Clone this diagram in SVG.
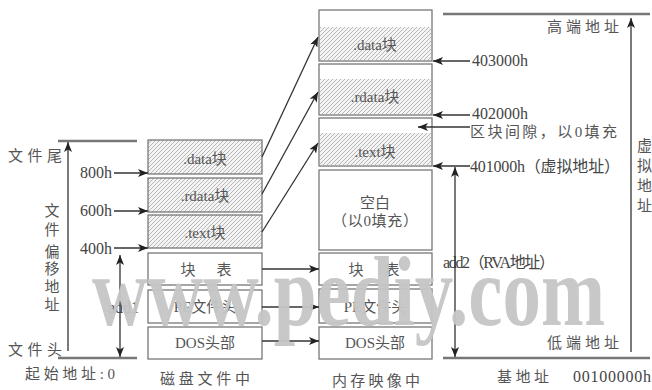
<svg xmlns="http://www.w3.org/2000/svg" width="652" height="390" viewBox="0 0 652 390">
<defs>
<pattern id="hatch" patternUnits="userSpaceOnUse" width="4" height="4">
<rect width="4" height="4" fill="#f4f4f4"/>
<path d="M-1,1 L1,-1 M0,4 L4,0 M3,5 L5,3" stroke="#b0b0b0" stroke-width="0.9"/>
</pattern>
<marker id="ah" markerUnits="userSpaceOnUse" markerWidth="10" markerHeight="8" refX="10" refY="4" orient="auto-start-reverse">
<path d="M0,0 L10,4 L0,8 L2.5,4 z" fill="#222"/>
</marker>
<style>
.box{fill:#fff;stroke:#777;stroke-width:1.3}
.hb{fill:url(#hatch);stroke:#777;stroke-width:1.3}
.hf{fill:url(#hatch);stroke:none}
.t{font-family:"Liberation Serif","Noto Sans CJK SC",serif;font-size:15px;fill:#555}
.n{font-family:"Liberation Serif","Noto Sans CJK SC",serif;font-size:16px;fill:#444}
.m{text-anchor:middle}
.ax{stroke:#777;stroke-width:2.5;fill:none}
.ar{stroke:#333;stroke-width:1.3;fill:none;marker-end:url(#ah)}
.ar2{stroke:#333;stroke-width:1.3;fill:none;marker-end:url(#ah);marker-start:url(#ah)}
.wm{font-family:"Liberation Serif",serif;font-weight:bold;font-size:100px;fill:#c6c6c6}
</style>
</defs>

<g id="disk">
<g id="disk-data"><rect class="hb" x="148" y="140" width="114" height="34"/><text class="t m" x="205" y="164">.data块</text></g>
<g id="disk-rdata"><rect class="hb" x="148" y="178" width="114" height="34"/><text class="t m" x="205" y="201">.rdata块</text></g>
<g id="disk-text"><rect class="hb" x="148" y="215" width="114" height="33"/><text class="t m" x="205" y="238">.text块</text></g>
<g id="disk-table"><rect class="box" x="148" y="253" width="114" height="32"/><text class="t m" x="188" y="275">块</text><text class="t m" x="224" y="275">表</text></g>
<g id="disk-pe"><rect class="box" x="148" y="290" width="114" height="33"/><text class="t m" x="205" y="312">PE文件头</text></g>
<g id="disk-dos"><rect class="box" x="148" y="327" width="114" height="32"/><text class="t m" x="205" y="348">DOS头部</text></g>
<text class="t m" x="205" y="384" textLength="90">磁盘文件中</text>
</g>

<g id="memory">
<g id="mem-data"><rect class="box" x="319" y="10" width="113" height="51"/><rect class="hf" x="320" y="27" width="111" height="33"/><text class="t m" x="375" y="50">.data块</text></g>
<g id="mem-rdata"><rect class="box" x="319" y="64" width="113" height="51"/><rect class="hf" x="320" y="79" width="111" height="35"/><text class="t m" x="375" y="102">.rdata块</text></g>
<g id="mem-text"><rect class="box" x="319" y="118" width="113" height="48"/><rect class="hf" x="320" y="133" width="111" height="32"/><text class="t m" x="375" y="157">.text块</text></g>
<g id="mem-blank"><rect class="box" x="319" y="170" width="113" height="80"/><text class="t m" x="375" y="208">空白</text><text class="t m" x="375" y="226" textLength="86">（以0填充）</text></g>
<g id="mem-table"><rect class="box" x="319" y="253" width="113" height="32"/><text class="t m" x="356" y="275">块</text><text class="t m" x="392" y="275">表</text></g>
<g id="mem-pe"><rect class="box" x="319" y="289" width="113" height="34"/><text class="t m" x="375" y="312">PE文件头</text></g>
<g id="mem-dos"><rect class="box" x="319" y="327" width="113" height="32"/><text class="t m" x="375" y="348">DOS头部</text></g>
<text class="t m" x="376" y="386" textLength="88">内存映像中</text>
</g>

<g id="left-axis">
<line class="ax" x1="58" y1="141" x2="137" y2="141"/>
<line class="ax" x1="58" y1="358" x2="137" y2="358"/>
<text class="t" x="8" y="161" textLength="54">文件尾</text>
<text class="t" x="8" y="355" textLength="54">文件头</text>
<text class="t" x="25" y="379" textLength="90">起始地址:0</text>
<g class="t m">
<text x="52" y="216">文</text><text x="52" y="235">件</text><text x="52" y="257">偏</text><text x="52" y="274">移</text><text x="52" y="292">地</text><text x="52" y="310">址</text>
</g>
<text class="n" x="80" y="178">800h</text>
<text class="n" x="80" y="216">600h</text>
<text class="n" x="80" y="254">400h</text>
<text class="n" x="108" y="313">add1</text>
</g>

<g id="right-axis">
<line class="ax" x1="443" y1="14" x2="650" y2="14"/>
<line class="ax" x1="443" y1="358" x2="650" y2="358"/>
<text class="t" x="547" y="32" textLength="72">高端地址</text>
<text class="t" x="547" y="348" textLength="72">低端地址</text>
<text class="n" x="472" y="66">403000h</text>
<text class="n" x="472" y="119">402000h</text>
<text class="t" x="470" y="137" textLength="147">区块间隙，以0填充</text>
<text class="n" x="470" y="172" textLength="150">401000h（虚拟地址）</text>
<text class="n" x="443" y="268" textLength="112">add2（RVA地址）</text>
<text class="t" x="497" y="382" textLength="52">基地址</text>
<text class="n" x="573" y="382" textLength="78">00100000h</text>
<g class="t">
<text x="637" y="151">虚</text><text x="637" y="171">拟</text><text x="637" y="191">地</text><text x="637" y="211">址</text>
</g>
</g>

<g id="connectors">
<line class="ar" x1="68" y1="351" x2="68" y2="142"/>
<line class="ar2" x1="120" y1="357" x2="120" y2="255"/>
<line class="ar" x1="114" y1="173" x2="148" y2="173"/>
<line class="ar" x1="114" y1="211" x2="148" y2="211"/>
<line class="ar" x1="114" y1="248" x2="148" y2="248"/>
<line class="ar" x1="262" y1="157" x2="318" y2="37"/>
<line class="ar" x1="262" y1="194" x2="318" y2="92"/>
<line class="ar" x1="262" y1="232" x2="318" y2="143"/>
<line class="ar" x1="262" y1="269" x2="319" y2="269"/>
<line class="ar" x1="262" y1="307" x2="319" y2="307"/>
<line class="ar" x1="262" y1="341" x2="319" y2="341"/>
<line class="ar" x1="470" y1="61" x2="433" y2="61"/>
<line class="ar" x1="470" y1="115" x2="433" y2="115"/>
<line class="ar" x1="470" y1="127" x2="418" y2="127"/>
<line class="ar" x1="470" y1="166" x2="433" y2="166"/>
<line class="ar2" x1="455" y1="357" x2="455" y2="167"/>
<line class="ar" x1="631" y1="352" x2="631" y2="18"/>
</g>

<text class="wm" x="92" y="325" textLength="513" lengthAdjust="spacingAndGlyphs" opacity="0.95">www.pediy.com</text>
</svg>
